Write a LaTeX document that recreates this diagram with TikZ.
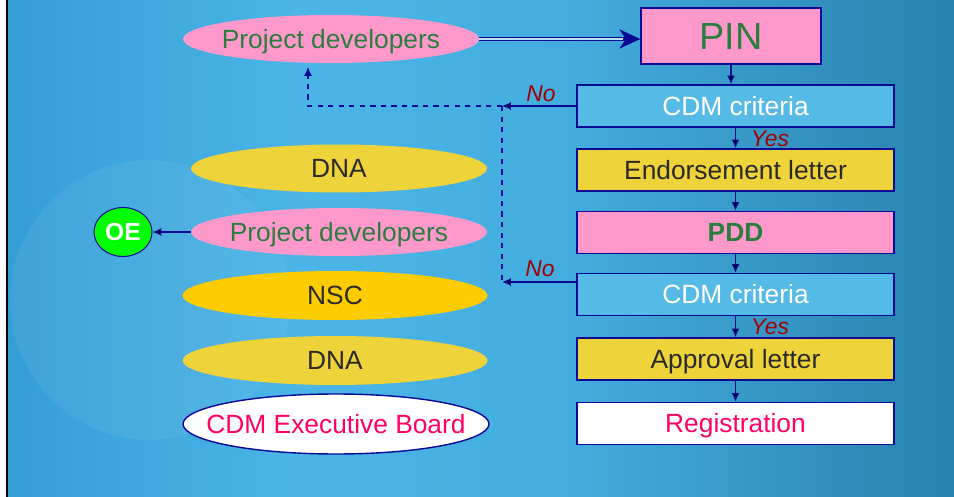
\documentclass[tikz,border=0pt]{standalone}
\usepackage{fontspec}
\setmainfont{Liberation Sans}
\usetikzlibrary{shapes.geometric,arrows.meta}

\definecolor{navy}{HTML}{0A0A96}
\definecolor{pinkfill}{HTML}{FF99CC}
\definecolor{goldfill}{HTML}{EFD33A}
\definecolor{nscfill}{HTML}{FFCC00}
\definecolor{skyfill}{HTML}{56BAE6}
\definecolor{leafgreen}{HTML}{2B7D3E}
\definecolor{darkred}{HTML}{A00000}
\definecolor{rosetext}{HTML}{FF0066}
\definecolor{inktext}{HTML}{2A2A2A}
\definecolor{bgleft}{HTML}{359DD6}
\definecolor{bgmid}{HTML}{4AB5E6}
\definecolor{bgmid2}{HTML}{44ADDF}
\definecolor{bgright}{HTML}{2882AE}

\tikzstyle{flowbox}=[rectangle, draw=navy, line width=0.8pt, minimum width=6.34cm, minimum height=0.84cm, inner sep=0pt, text height=10.8pt, text depth=0pt, font=\fontsize{15}{18}\selectfont]
\tikzstyle{oval}=[ellipse, inner sep=0pt, minimum width=5.92cm, minimum height=0.96cm, text height=10.8pt, text depth=0pt, font=\fontsize{15}{18}\selectfont]
\tikzstyle{answer}=[inner sep=0pt, text=darkred, font=\fontsize{13}{15}\selectfont\itshape]
\tikzstyle{flow}=[draw=navy, line width=0.7pt, every edge/.append style={-{Latex[length=5pt,width=4.5pt]}}]
\tikzstyle{back}=[draw=navy, line width=0.7pt, dashed, -{Latex[length=5pt,width=4.5pt]}]

\newcommand{\ovaltext}[1]{\makebox[0pt]{#1}}

\begin{document}
\begin{tikzpicture}[x=0.02cm, y=-0.02cm]
    \useasboundingbox (0,0) rectangle (954,497);
    \shade[left color=bgleft, right color=bgmid] (7,0) rectangle (300,497);
    \shade[left color=bgmid, right color=bgmid2] (300,0) rectangle (560,497);
    \shade[left color=bgmid2, right color=bgright] (560,0) rectangle (954,497);
    \fill[white, opacity=0.06] (150,300) circle (2.8cm);
    \draw[black, line width=1.5pt] (7,0) -- (7,497);

    % left column
    \node[oval, fill=pinkfill, text=leafgreen] (pd1) at (331,39) {\ovaltext{Project developers}};
    \node[oval, fill=goldfill, text=inktext] (dna1) at (339,168.5) {\ovaltext{DNA}};
    \node[oval, fill=pinkfill, text=leafgreen] (pd2) at (339,232) {\ovaltext{Project developers}};
    \node[oval, fill=nscfill, text=inktext, minimum width=6.1cm, minimum height=0.98cm] (nsc) at (335,295.5) {\ovaltext{NSC}};
    \node[oval, fill=goldfill, text=inktext, minimum width=6.1cm, minimum height=0.98cm] (dna2) at (335,360.5) {\ovaltext{DNA}};
    \node[oval, draw=navy, line width=0.8pt, fill=white, text=rosetext, minimum width=6.12cm, minimum height=1.2cm] (ceb) at (336,424) {\ovaltext{CDM Executive Board}};
    \node[ellipse, draw=navy, line width=0.6pt, fill=green, text=white, minimum width=1.16cm, minimum height=0.98cm, inner sep=0pt, font=\fontsize{14}{16}\selectfont\bfseries] (oe) at (123,232) {OE};

    % right column
    \node[flowbox, fill=pinkfill, text=leafgreen, minimum width=3.6cm, minimum height=1.12cm, text height=15.4pt, font=\fontsize{21.5}{24}\selectfont] (pin) at (731,36) {PIN};
    \node[flowbox, fill=skyfill, text=white] (crit1) at (735.5,106) {CDM criteria};
    \node[flowbox, fill=goldfill, text=inktext] (endo) at (735.5,170) {Endorsement letter};
    \node[flowbox, fill=pinkfill, text=leafgreen, font=\fontsize{15}{18}\selectfont\bfseries] (pdd) at (735.5,232.5) {PDD};
    \node[flowbox, fill=skyfill, text=white] (crit2) at (735.5,294.5) {CDM criteria};
    \node[flowbox, fill=goldfill, text=inktext] (appr) at (735.5,359) {Approval letter};
    \node[flowbox, fill=white, text=rosetext] (reg) at (735.5,423.5) {Registration};

    \node[answer] (no1) at (541,94) {No};
    \node[answer] (no2) at (540,269) {No};
    \node[answer] (yes1) at (770,139) {Yes};
    \node[answer] (yes2) at (770,327) {Yes};

    \coordinate (j1) at (502,106);
    \coordinate (j2) at (502,282);
    \coordinate (ret) at (308,67);

    % double arrow into PIN
    \path[draw=navy, line width=0.6pt, double=bgmid!40!white, double distance=1.4pt, shorten >=9pt]
    (pd1.east) -- (pd1.east -| pin.west);
    \path[draw=navy, line width=0.6pt, -{Stealth[length=12pt,width=11pt]}]
    ([xshift=-10pt]pd1.east -| pin.west) -- (pd1.east -| pin.west);

    \path[flow]
    (pin.south) edge (pin.south |- crit1.north)
    (crit1) edge (endo)
    (endo) edge (pdd)
    (pdd) edge (crit2)
    (crit2) edge (appr)
    (appr) edge (reg)
    (crit1.west) edge (j1)
    (crit2.west |- j2) edge (j2)
    (pd2.west) edge (oe.east)
	;
    \draw[back] (j1) -| (ret);
    \draw[navy, line width=0.7pt, dashed] (j1) -- (j2);
  \end{tikzpicture}
\end{document}
